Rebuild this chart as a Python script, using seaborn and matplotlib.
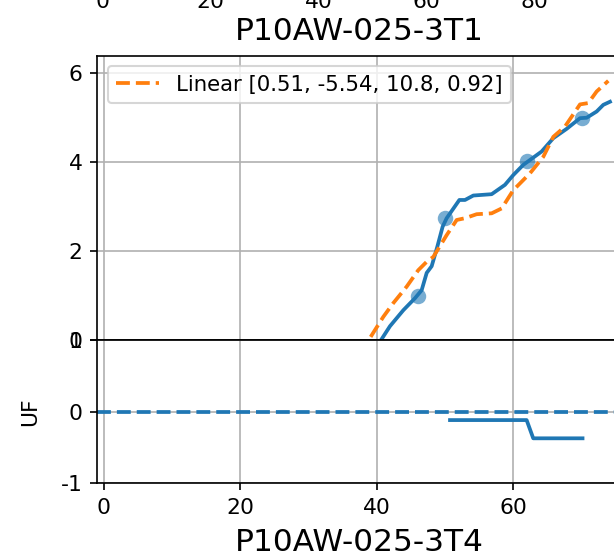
import numpy as np
import pandas as pd
import matplotlib
matplotlib.use("Agg")
import matplotlib.pyplot as plt
import seaborn as sns

# ---- data ----
prev_label = "P10AW-025-3T1"
main_label = "P10AW-025-3T4"
legend_label = "Linear [0.51, -5.54, 10.8, 0.92]"

blue_x = [40.73, 41.95, 43.91, 45.62, 46.6, 47.34, 48.07, 48.9, 49.68, 50.27,
          52.13, 52.96, 54.18, 56.87, 58.82, 60.04, 61.51, 64.2, 65.91, 67.87,
          69.83, 70.81, 72.27, 73.25, 74.23]
blue_y = [0.02, 0.31, 0.67, 0.94, 1.12, 1.51, 1.66, 2.10, 2.55, 2.74,
          3.15, 3.15, 3.25, 3.28, 3.49, 3.71, 3.94, 4.24, 4.54, 4.75,
          4.99, 5.0, 5.14, 5.29, 5.36]

fit_x = [39.12, 40.97, 42.44, 44.4, 46.1, 47.34, 48.31, 50.27, 51.74, 52.96,
         54.67, 56.87, 58.34, 60.04, 62.49, 64.44, 65.91, 67.62, 69.83, 71.04,
         72.27, 73.98]
fit_y = [0.07, 0.52, 0.83, 1.2, 1.57, 1.76, 1.87, 2.36, 2.70, 2.74,
         2.83, 2.85, 2.96, 3.37, 3.75, 4.12, 4.57, 4.80, 5.30, 5.33,
         5.59, 5.83]

pt_x = [46.02, 50.02, 62.0, 70.07]
pt_y = [0.99, 2.75, 4.03, 4.99]

uf_x = [50.76, 62.0, 62.97, 70.2]
uf_y = [-0.12, -0.12, -0.375, -0.375]

prev_ticks = [0, 20, 40, 60, 80]
main_xticks = [0, 20, 40, 60]
main_yticks = [0, 2, 4, 6]
uf_yticks = [-1, 0, 1]

# ---- figure ----
W, H, DPI = 614, 557, 150
plt.rcParams['font.family'] = ['DejaVu Sans']
plt.rcParams['axes.unicode_minus'] = False
fig = plt.figure(figsize=(W / DPI, H / DPI), dpi=DPI)

def frac(x0, y0, x1, y1):
    return [x0 / W, 1 - y1 / H, (x1 - x0) / W, (y1 - y0) / H]

blue = "#1f77b4"
orange = "#ff7f0e"
tick_fs = 10.5
label_fs = 15
lw = 1.8

# previous (mostly off-canvas) axes
ax0 = fig.add_axes(frac(97.3, -300, 620.7, -23))
ax0.set_xlim(-1.0, 95.9)
ax0.set_xticks(prev_ticks)
ax0.set_yticks([])
ax0.tick_params(labelsize=tick_fs)
ax0.set_xlabel(prev_label, fontsize=label_fs, labelpad=2.5)

# main axes
ax1 = fig.add_axes(frac(97.3, 55.5, 620.7, 340))
ax1.grid(True, color="#b0b0b0", linewidth=0.8)
ax1.set_axisbelow(True)
sns.lineplot(x=blue_x, y=blue_y, ax=ax1, color=blue, linewidth=lw, sort=False)
sns.lineplot(x=fit_x, y=fit_y, ax=ax1, color=orange, linewidth=lw,
             linestyle="--", sort=False, label=legend_label)
sns.scatterplot(x=pt_x, y=pt_y, ax=ax1, color=blue, alpha=0.6, s=55,
                linewidth=0)
ax1.set_xlim(-0.98, 75.8)
ax1.set_ylim(0, 6.40)
ax1.set_xticks(main_xticks)
ax1.set_yticks(main_yticks)
ax1.tick_params(labelsize=tick_fs, labelbottom=False)
ax1.legend(loc="upper left", fontsize=10.2)
ax1.set_xlabel("")
ax1.set_ylabel("")

# UF axes
ax2 = fig.add_axes(frac(97.3, 340, 620.7, 483))
ax2.grid(True, color="#b0b0b0", linewidth=0.8)
ax2.set_axisbelow(True)
ax2.axhline(0, color=blue, linestyle="--", linewidth=lw)
sns.lineplot(x=uf_x, y=uf_y, ax=ax2, color=blue, linewidth=lw, sort=False)
ax2.set_xlim(-0.98, 75.8)
ax2.set_ylim(-1, 1)
ax2.set_xticks(main_xticks)
ax2.set_yticks(uf_yticks)
ax2.tick_params(labelsize=tick_fs)
ax2.set_ylabel("UF", fontsize=tick_fs, labelpad=10)
ax2.set_xlabel(main_label, fontsize=label_fs, labelpad=5)

fig.savefig("out.png", dpi=DPI)
